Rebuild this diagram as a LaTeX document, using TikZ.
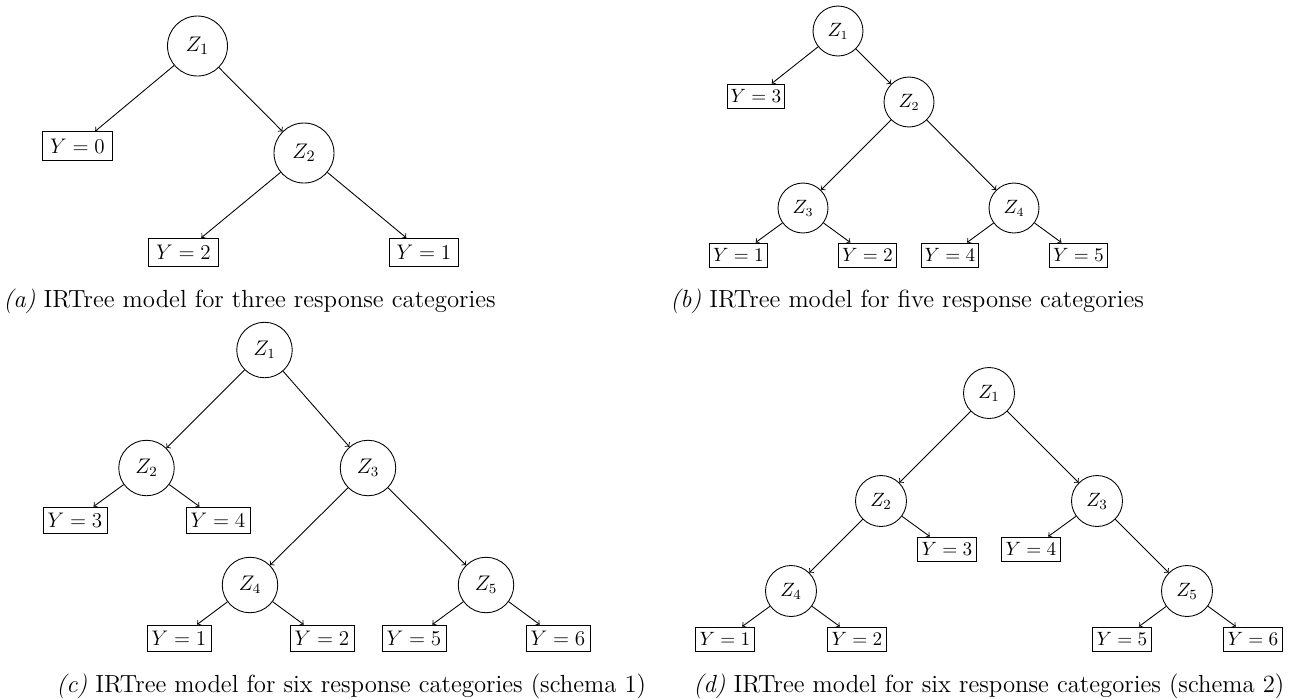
\documentclass[tikz,border=0pt]{standalone}
\usepackage{tikz}
\usetikzlibrary{positioning}

\begin{document}
\begin{tikzpicture}[
    x=0.02cm, y=-0.02cm,
    latent/.style = {circle, draw=black, line width=0.5pt, inner sep=0pt},
    resp/.style   = {rectangle, draw=black, line width=0.5pt, inner sep=0pt},
    arrow/.style  = {->, line width=0.5pt},
    subcap/.style = {anchor=base west, inner sep=0pt, font=\fontsize{14.1}{17}\selectfont}
]
\useasboundingbox (0,0) rectangle (1302,698);

% (a) three response categories
\begin{scope}[font=\fontsize{12.9}{15}\selectfont,
    latent/.append style={minimum size=1.2cm},
    resp/.append style={minimum width=1.39cm, minimum height=0.57cm}]
\node[latent] (aZ1) at (197.5,46) {$Z_1$};
\node[latent] (aZ2) at (304,153)  {$Z_2$};
\node[resp]   (aY0) at (77.5,146) {$Y=0$};
\node[resp]   (aY2) at (183.5,252.5) {$Y=2$};
\node[resp]   (aY1) at (424,252.5) {$Y=1$};
\draw[arrow] (aZ1) -- (aY0);
\draw[arrow] (aZ1) -- (aZ2);
\draw[arrow] (aZ2) -- (aY2);
\draw[arrow] (aZ2) -- (aY1);
\end{scope}
\node[subcap] (capa) at (3,307) {\textit{(a)} IRTree model for three response categories};

% (b) five response categories
\begin{scope}[font=\fontsize{10.6}{13}\selectfont,
    latent/.append style={minimum size=1.0cm},
    resp/.append style={minimum width=1.15cm, minimum height=0.48cm}]
\node[latent] (bZ1) at (838,31)   {$Z_1$};
\node[resp]   (bY3) at (756,96)   {$Y=3$};
\node[latent] (bZ2) at (909,102)  {$Z_2$};
\node[latent] (bZ3) at (803,208)  {$Z_3$};
\node[latent] (bZ4) at (1014,208) {$Z_4$};
\node[resp]   (bY1) at (738.5,255)  {$Y=1$};
\node[resp]   (bY2) at (867.5,255)  {$Y=2$};
\node[resp]   (bY4) at (950,255)    {$Y=4$};
\node[resp]   (bY5) at (1078.5,255) {$Y=5$};
\draw[arrow] (bZ1) -- (bY3);
\draw[arrow] (bZ1) -- (bZ2);
\draw[arrow] (bZ2) -- (bZ3);
\draw[arrow] (bZ2) -- (bZ4);
\draw[arrow] (bZ3) -- (bY1);
\draw[arrow] (bZ3) -- (bY2);
\draw[arrow] (bZ4) -- (bY4);
\draw[arrow] (bZ4) -- (bY5);
\end{scope}
\node[subcap] (capb) at (670,307) {\textit{(b)} IRTree model for five response categories};

% (c) six response categories, schema 1
\begin{scope}[font=\fontsize{11.8}{14}\selectfont,
    latent/.append style={minimum size=1.11cm},
    resp/.append style={minimum width=1.28cm, minimum height=0.52cm}]
\node[latent] (cZ1) at (264.5,350) {$Z_1$};
\node[latent] (cZ2) at (146.5,468) {$Z_2$};
\node[latent] (cZ3) at (368,468)   {$Z_3$};
\node[resp]   (cY3) at (75,520)    {$Y=3$};
\node[resp]   (cY4) at (218,520)   {$Y=4$};
\node[latent] (cZ4) at (250,585)   {$Z_4$};
\node[latent] (cZ5) at (486,585)   {$Z_5$};
\node[resp]   (cY1) at (179,638)   {$Y=1$};
\node[resp]   (cY2) at (322,638)   {$Y=2$};
\node[resp]   (cY5) at (414,638)   {$Y=5$};
\node[resp]   (cY6) at (558,638)   {$Y=6$};
\draw[arrow] (cZ1) -- (cZ2);
\draw[arrow] (cZ1) -- (cZ3);
\draw[arrow] (cZ2) -- (cY3);
\draw[arrow] (cZ2) -- (cY4);
\draw[arrow] (cZ3) -- (cZ4);
\draw[arrow] (cZ3) -- (cZ5);
\draw[arrow] (cZ4) -- (cY1);
\draw[arrow] (cZ4) -- (cY2);
\draw[arrow] (cZ5) -- (cY5);
\draw[arrow] (cZ5) -- (cY6);
\end{scope}
\node[subcap] (capc) at (56,692) {\textit{(c)} IRTree model for six response categories (schema 1)};

% (d) six response categories, schema 2
\begin{scope}[font=\fontsize{10.9}{13}\selectfont,
    latent/.append style={minimum size=1.02cm},
    resp/.append style={minimum width=1.18cm, minimum height=0.48cm}]
\node[latent] (dZ1) at (989,393)  {$Z_1$};
\node[latent] (dZ2) at (881,501)  {$Z_2$};
\node[latent] (dZ3) at (1097,501) {$Z_3$};
\node[resp]   (dY3) at (947,549)  {$Y=3$};
\node[resp]   (dY4) at (1031,549) {$Y=4$};
\node[latent] (dZ4) at (791,591)  {$Z_4$};
\node[latent] (dZ5) at (1187,591) {$Z_5$};
\node[resp]   (dY1) at (725,639)  {$Y=1$};
\node[resp]   (dY2) at (857,639)  {$Y=2$};
\node[resp]   (dY5) at (1122,639) {$Y=5$};
\node[resp]   (dY6) at (1253,639) {$Y=6$};
\draw[arrow] (dZ1) -- (dZ2);
\draw[arrow] (dZ1) -- (dZ3);
\draw[arrow] (dZ2) -- (dZ4);
\draw[arrow] (dZ2) -- (dY3);
\draw[arrow] (dZ3) -- (dY4);
\draw[arrow] (dZ3) -- (dZ5);
\draw[arrow] (dZ4) -- (dY1);
\draw[arrow] (dZ4) -- (dY2);
\draw[arrow] (dZ5) -- (dY5);
\draw[arrow] (dZ5) -- (dY6);
\end{scope}
\node[subcap] (capd) at (693,692) {\textit{(d)} IRTree model for six response categories (schema 2)};

\end{tikzpicture}
\end{document}
